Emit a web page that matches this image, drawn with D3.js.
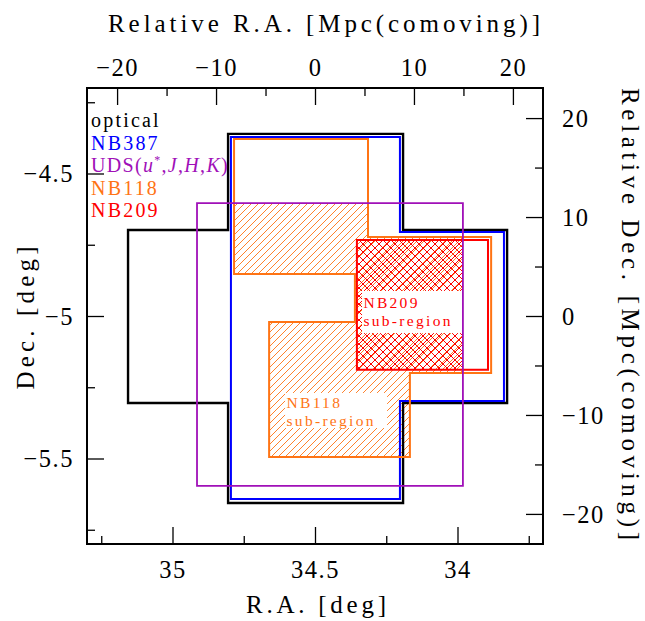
<!DOCTYPE html>
<html>
<head>
<meta charset="utf-8">
<script src="https://cdn.jsdelivr.net/npm/d3@7"></script>
<style>
  body { margin: 0; background: #fff; }
  text { font-family: "Liberation Serif", serif; }
</style>
</head>
<body>
<div id="chart"></div>
<script>
// axis ranges and ticks (deg / Mpc)
var raDomain = [35.3, 33.7];
var decDomain = [-5.8, -4.2];
var raMajor = [35, 34.5, 34];
var raMinor = [35.25, 34.75, 34.25, 33.75];
var decMajor = [-4.5, -5, -5.5];
var decMinor = [-4.25, -4.75, -5.25, -5.75];
var mpcMajor = [-20, -10, 0, 10, 20];
var mpcMinor = [-15, -5, 5, 15];
var center = [34.5, -5.0];
var mpcPerDeg = 28.8;

// survey footprints, [RA, Dec] vertices
var opticalPoly = [[34.805,-4.361],[34.191,-4.361],[34.191,-4.698],[33.826,-4.698],[33.826,-5.305],[34.191,-5.305],
  [34.191,-5.656],[34.805,-5.656],[34.805,-5.305],[35.156,-5.305],[35.156,-4.698],[34.805,-4.698]];
var nb387Poly = [[34.795,-4.372],[34.202,-4.372],[34.202,-4.705],[33.837,-4.705],[33.837,-5.298],[34.202,-5.298],
  [34.202,-5.642],[34.795,-5.642]];
var udsPoly = [[34.914,-4.604],[33.981,-4.604],[33.981,-5.596],[34.914,-5.596]];
var nb118Poly = [[34.784,-4.379],[34.314,-4.379],[34.314,-4.723],[33.882,-4.723],[33.882,-5.200],[34.167,-5.200],
  [34.167,-5.495],[34.661,-5.495],[34.661,-5.021],[34.360,-5.021],[34.360,-4.853],[34.784,-4.853]];
var nb209Poly = [[34.353,-4.733],[33.893,-4.733],[33.893,-5.189],[34.353,-5.189]];

var legendNames = ["optical", "NB387", "UDS", "NB118", "NB209"];
var legendColors = ["#000000", "#0000ff", "#a010b8", "#ff7414", "#ff0000"];

var margin = {top: 88, left: 87};
var W = 456, H = 456;

var svg = d3.select("#chart").append("svg")
  .attr("width", 645)
  .attr("height", 621);

var defs = svg.append("defs");
// single hatch for NB118 sub-region
defs.append("pattern").attr("id", "hatch118")
  .attr("patternUnits", "userSpaceOnUse").attr("width", 7).attr("height", 7)
  .append("path").attr("d", "M-1,1 L1,-1 M0,7 L7,0 M6,8 L8,6")
  .attr("stroke", legendColors[3]).attr("stroke-width", 0.9);
// cross hatch for NB209 sub-region
defs.append("pattern").attr("id", "hatch209")
  .attr("patternUnits", "userSpaceOnUse").attr("width", 8).attr("height", 8)
  .append("path").attr("d", "M-1,1 L1,-1 M0,8 L8,0 M7,9 L9,7 M-1,7 L1,9 M0,0 L8,8 M7,-1 L9,1")
  .attr("stroke", legendColors[4]).attr("stroke-width", 1);

var x = d3.scaleLinear().domain(raDomain).range([0, W]);
var y = d3.scaleLinear().domain(decDomain).range([H, 0]);
var xm = d3.scaleLinear().domain(raDomain.map(function(d){ return (center[0] - d) * mpcPerDeg; })).range([0, W]);
var ym = d3.scaleLinear().domain(decDomain.map(function(d){ return (d - center[1]) * mpcPerDeg; })).range([H, 0]);

var line = d3.line().x(function(d){ return x(d[0]); }).y(function(d){ return y(d[1]); })
  .curve(d3.curveLinearClosed);

defs.append("clipPath").attr("id", "udsClip")
  .append("path").attr("transform", "translate(" + margin.left + "," + margin.top + ")")
  .attr("d", line(udsPoly));

// sub-regions = filter footprint inside UDS
var subInner = svg.append("g").attr("clip-path", "url(#udsClip)")
  .append("g").attr("transform", "translate(" + margin.left + "," + margin.top + ")");
subInner.append("path").attr("d", line(nb118Poly)).attr("fill", "url(#hatch118)");
subInner.append("path").attr("d", line(nb209Poly)).attr("fill", "url(#hatch209)");

var g = svg.append("g").attr("transform", "translate(" + margin.left + "," + margin.top + ")");

// white boxes behind sub-region labels
var labelBoxes = g.append("g");
labelBoxes.append("rect")
  .attr("x", x(34.335)).attr("y", y(-4.912))
  .attr("width", x(33.984) - x(34.335)).attr("height", y(-5.060) - y(-4.912))
  .attr("fill", "#fff");
labelBoxes.append("rect")
  .attr("x", x(34.605)).attr("y", y(-5.270))
  .attr("width", x(34.247) - x(34.605)).attr("height", y(-5.393) - y(-5.270))
  .attr("fill", "#fff");

// outlines
var outlines = [
  {poly: opticalPoly, color: legendColors[0], w: 2.4},
  {poly: nb387Poly, color: legendColors[1], w: 2},
  {poly: nb118Poly, color: legendColors[3], w: 2},
  {poly: nb209Poly, color: legendColors[4], w: 2},
  {poly: udsPoly, color: legendColors[2], w: 1.8}
];
g.selectAll(".outline").data(outlines).enter().append("path")
  .attr("class", "outline")
  .attr("d", function(d){ return line(d.poly); })
  .attr("fill", "none")
  .attr("stroke", function(d){ return d.color; })
  .attr("stroke-width", function(d){ return d.w; });

// sub-region labels
function subLabel(color, ra, dec1, dec2, name) {
  var t = g.append("g").attr("fill", color).attr("font-size", 15.5).attr("letter-spacing", 2.3);
  t.append("text").attr("x", x(ra)).attr("y", y(dec1)).text(name);
  t.append("text").attr("x", x(ra)).attr("y", y(dec2)).text("sub-region");
}
subLabel(legendColors[4], 34.33, -4.972, -5.035, "NB209");
subLabel(legendColors[3], 34.6, -5.323, -5.386, "NB118");

// axes
function fmt(d) { return (d < 0 ? "\u2212" : "") + Math.abs(d); }
function styleAxis(sel) {
  sel.select(".domain").remove();
  sel.selectAll("line").attr("stroke", "#000").attr("stroke-width", 1.3);
  sel.selectAll("text").attr("font-size", 24.5).attr("fill", "#000")
    .attr("font-family", "Liberation Serif").attr("letter-spacing", 1.5);
}
var axBottom = g.append("g").attr("transform", "translate(0," + H + ")")
  .call(d3.axisBottom(x).tickValues(raMajor).tickSize(-17).tickFormat(fmt));
styleAxis(axBottom);
axBottom.selectAll("text").attr("y", 34).attr("dy", null);
g.append("g").attr("transform", "translate(0," + H + ")")
  .call(d3.axisBottom(x).tickValues(raMinor).tickSize(-8).tickFormat("")).call(styleAxis);

var axLeft = g.append("g").call(d3.axisLeft(y).tickValues(decMajor).tickSize(-17).tickFormat(fmt));
styleAxis(axLeft);
axLeft.selectAll("text").attr("x", -13).attr("dy", "0.33em");
g.append("g").call(d3.axisLeft(y).tickValues(decMinor).tickSize(-8).tickFormat("")).call(styleAxis);

var axTop = g.append("g").call(d3.axisTop(xm).tickValues(mpcMajor).tickSize(-17).tickFormat(fmt));
styleAxis(axTop);
axTop.selectAll("text").attr("y", -12).attr("dy", null);
g.append("g").call(d3.axisTop(xm).tickValues(mpcMinor).tickSize(-8).tickFormat("")).call(styleAxis);

var axRight = g.append("g").attr("transform", "translate(" + W + ",0)")
  .call(d3.axisRight(ym).tickValues(mpcMajor).tickSize(-17).tickFormat(fmt));
styleAxis(axRight);
axRight.selectAll("text").attr("x", 19).attr("dy", "0.33em");
g.append("g").attr("transform", "translate(" + W + ",0)")
  .call(d3.axisRight(ym).tickValues(mpcMinor).tickSize(-8).tickFormat("")).call(styleAxis);

// frame
g.append("rect").attr("width", W).attr("height", H)
  .attr("fill", "none").attr("stroke", "#000").attr("stroke-width", 2);

// axis titles
svg.append("text").attr("x", 324).attr("y", 32).attr("text-anchor", "middle")
  .attr("font-size", 25).attr("textLength", 432).attr("lengthAdjust", "spacing")
  .text("Relative R.A. [Mpc(comoving)]");
svg.append("text").attr("x", 316).attr("y", 613).attr("text-anchor", "middle")
  .attr("font-size", 25).attr("textLength", 140).attr("lengthAdjust", "spacing")
  .text("R.A. [deg]");
svg.append("text").attr("transform", "translate(34,318) rotate(-90)").attr("text-anchor", "middle")
  .attr("font-size", 25).attr("textLength", 143).attr("lengthAdjust", "spacing")
  .text("Dec. [deg]");
svg.append("text").attr("transform", "translate(622,314) rotate(90)").attr("text-anchor", "middle")
  .attr("font-size", 25).attr("textLength", 452).attr("lengthAdjust", "spacing")
  .text("Relative Dec. [Mpc(comoving)]");

// legend
var legend = g.append("g").attr("font-size", 20).attr("letter-spacing", 2.2);
legendNames.forEach(function(name, i) {
  var t = legend.append("text").attr("x", 4).attr("y", 39 + i * 22.5).attr("fill", legendColors[i]);
  if (name === "UDS") {
    t.attr("letter-spacing", 1.3);
    t.append("tspan").text("UDS(");
    t.append("tspan").attr("font-style", "italic").text("u");
    t.append("tspan").attr("font-size", 12).attr("dy", -8).text("*");
    t.append("tspan").attr("dy", 8).text(",");
    t.append("tspan").attr("font-style", "italic").text("J");
    t.append("tspan").text(",");
    t.append("tspan").attr("font-style", "italic").text("H");
    t.append("tspan").text(",");
    t.append("tspan").attr("font-style", "italic").text("K");
    t.append("tspan").text(")");
  } else {
    t.text(name);
  }
});
</script>
</body>
</html>
